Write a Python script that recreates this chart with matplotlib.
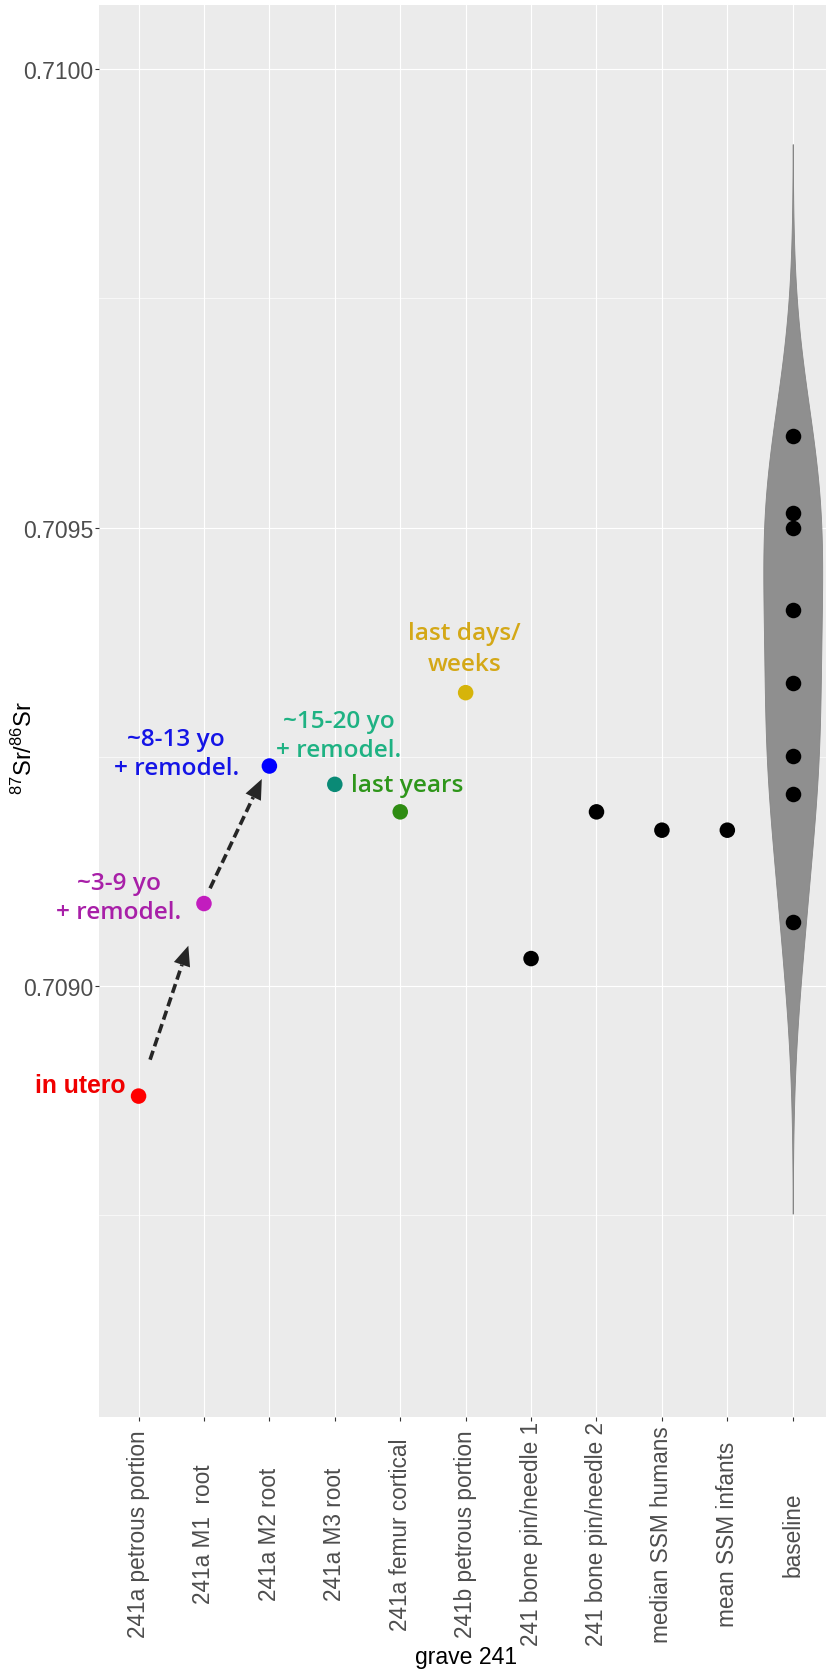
import numpy as np
import matplotlib
matplotlib.use("Agg")
import matplotlib.pyplot as plt
from matplotlib.ticker import FixedLocator

plt.rcParams['font.family'] = ['Liberation Sans', 'DejaVu Sans']
plt.rcParams['mathtext.fontset'] = 'custom'
plt.rcParams['mathtext.rm'] = 'Liberation Sans'
plt.rcParams['mathtext.it'] = 'Liberation Sans:italic'
plt.rcParams['mathtext.bf'] = 'Liberation Sans:bold'

# ---------------- data ----------------
categories = ["241a petrous portion", "241a M1  root", "241a M2 root", "241a M3 root",
              "241a femur cortical", "241b petrous portion", "241 bone pin/needle 1",
              "241 bone pin/needle 2", "median SSM humans", "mean SSM infants", "baseline"]
sample_values = [0.70888, 0.70909, 0.70924, 0.70922, 0.70919, 0.70932,
                 0.70903, 0.70919, 0.70917, 0.70917]
sample_colors = ["#FF0000", "#C21DBE", "#0000FF", "#0A8A76", "#2E8C12", "#D6B40A",
                 "#000000", "#000000", "#000000", "#000000"]
baseline_values = [0.70960, 0.709516, 0.70950, 0.70941, 0.70933, 0.709251, 0.70921, 0.70907]

y_ticks = [0.7090, 0.7095, 0.7100]
y_tick_labels = ["0.7090", "0.7095", "0.7100"]
y_minor = [0.70875, 0.70925, 0.70975]
y_limits = (0.70853, 0.71007)

# annotation lines: text, x (category units), baseline y, colour
annotations = [
    ("in utero",    0.106, 0.7088845, "#F00000"),
    ("~3-9 yo",     0.694, 0.7091059, "#A81FA8"),
    ("+ remodel.",  0.694, 0.7090742, "#A81FA8"),
    ("~8-13 yo",    1.573, 0.7092629, "#1414E6"),
    ("+ remodel.",  1.585, 0.7092313, "#1414E6"),
    ("~15-20 yo",   4.058, 0.7092826, "#1FB283"),
    ("+ remodel.",  4.058, 0.7092513, "#1FB283"),
    ("last years",  5.113, 0.7092131, "#2E961A"),
    ("last days/",  5.985, 0.7093785, "#D4A817"),
    ("weeks",       5.985, 0.7093450, "#D4A817"),
]
arrows = [((1.176, 0.7089197), (1.761, 0.7090440)),
          ((2.093, 0.7091066), (2.884, 0.7092258))]

# ---------------- figure ----------------
W, H = 826, 1674
fig = plt.figure(figsize=(W / 100, H / 100), dpi=100)
left, right, top, bottom = 99.3, 832.0, 6.0, 1418.0
ax = fig.add_axes([left / W, 1 - bottom / H, (right - left) / W, (bottom - top) / H])
ax.set_facecolor("#EBEBEB")
for s in ax.spines.values():
    s.set_visible(False)

xpos = np.arange(1, len(categories) + 1)
ax.set_xlim(0.4, len(categories) + 0.6)
ax.set_ylim(*y_limits)

# grid
ax.set_axisbelow(True)
ax.set_xticks(xpos)
ax.set_yticks(y_ticks)
ax.yaxis.set_minor_locator(FixedLocator(y_minor))
ax.grid(which="major", color="white", lw=0.85)
ax.grid(which="minor", axis="y", color="white", lw=0.45)
ax.tick_params(which="minor", length=0)

# violin (Gaussian KDE, ggplot-style bw.nrd0, trim=FALSE)
bv = np.array(baseline_values)
n = len(bv)
sd = bv.std(ddof=1)
q1, q3 = np.percentile(bv, [25, 75])
bw = 0.9 * min(sd, (q3 - q1) / 1.34) * n ** -0.2
grid = np.linspace(bv.min() - 3 * bw, bv.max() + 3 * bw, 512)
dens = np.exp(-0.5 * ((grid[:, None] - bv[None, :]) / bw) ** 2).sum(axis=1)
half = 0.45 * dens / dens.max()
xb = xpos[-1]
ax.fill_betweenx(grid, xb - half, xb + half, facecolor="#8F8F8F",
                 edgecolor="#858585", lw=0.6, zorder=2)

# points
ax.scatter(xpos[:-1], sample_values, c=sample_colors, s=125, lw=0, zorder=4)
ax.scatter(np.full(n, xb), bv, c="black", s=125, lw=0, zorder=4)

# ticks & labels
ax.set_xticklabels(categories, rotation=90, va="center", ha="center")
ax.set_yticklabels(y_tick_labels)
ax.tick_params(axis="both", which="major", length=2.8, width=0.8, color="#333333",
               labelcolor="#4D4D4D")
ax.tick_params(axis="x", pad=81, labelsize=16.3)
ax.tick_params(axis="y", pad=1.5, labelsize=16.6)

fig.text((left + right) / 2 / W, 1 - 1658 / H, "grave 241", ha="center", va="center",
         fontsize=16.6, color="black")
fig.text(24 / W, 1 - 748 / H, r"$^{87}$Sr/$^{86}$Sr", rotation=90, ha="center",
         va="center", fontsize=17, color="black")

# annotations
for txt, x, y, col in annotations:
    if txt == "in utero":
        ax.text(x, y, txt, color=col, fontsize=17.8, fontweight="bold",
                family=["Liberation Sans", "DejaVu Sans"], ha="center", va="baseline",
                zorder=5, clip_on=False)
    else:
        ax.text(x, y, txt, color=col, fontsize=17.6, fontweight="semibold",
                family=["Open Sans", "DejaVu Sans"], ha="center", va="baseline",
                zorder=5, clip_on=False)

# dashed arrows with solid closed heads
inv = ax.transData.inverted()
for (x0, y0), (x1, y1) in arrows:
    p0 = ax.transData.transform((x0, y0))
    p1 = ax.transData.transform((x1, y1))
    d = p1 - p0
    u = d / np.hypot(*d)
    nrm = np.array([-u[1], u[0]])
    head_len, head_half = 20.0, 8.5
    pb = p1 - u * head_len
    b = inv.transform(pb)
    ax.plot([x0, b[0]], [y0, b[1]], ls=(0, (2.6, 1.3)), lw=2.6, color="#262626",
            dash_capstyle="butt", zorder=5)
    poly = np.array([p1, pb + nrm * head_half, pb - nrm * head_half])
    polyd = inv.transform(poly)
    ax.fill(polyd[:, 0], polyd[:, 1], color="#262626", lw=0, zorder=5)

fig.savefig("out.png", dpi=100)
